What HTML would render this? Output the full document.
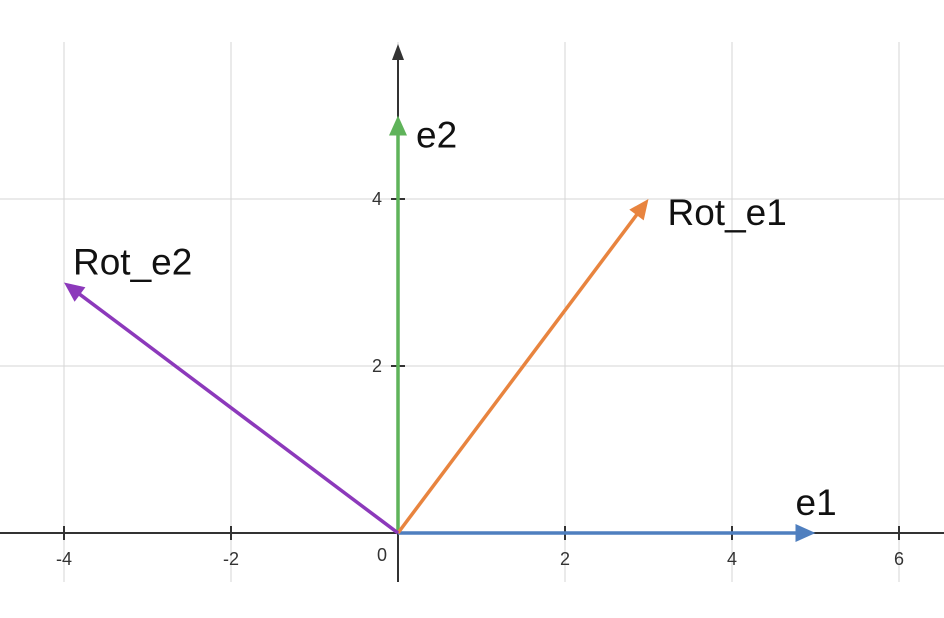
<!DOCTYPE html>
<html><head><meta charset="utf-8"><style>
html,body{margin:0;padding:0;background:#fff;}
svg{display:block;font-family:"Liberation Sans",sans-serif;}
</style></head><body>
<svg id="chart" width="944" height="618" viewBox="0 0 944 618">
<g id="grid"></g>
<g id="axes"></g>
<g id="vecs"></g>
</svg>
<script>
const xTicks=[-4,-2,2,4,6];
const yTicks=[2,4];
const vecNames=["e1","e2","Rot_e1","Rot_e2"];
const vecX=[5,0,3,-4];
const vecY=[0,5,4,3];
const vecColors=["#4f7fbf","#5fb35a","#e8843f","#8c39bb"];
const NS="http://www.w3.org/2000/svg";
const U=83.5, X0=398, Y0=533;
const sx=v=>X0+v*U, sy=v=>Y0-v*U;
function mk(t,a,p){const e=document.createElementNS(NS,t);for(const k in a)e.setAttribute(k,a[k]);p.appendChild(e);return e;}
const grid=document.getElementById('grid'),axes=document.getElementById('axes'),vecs=document.getElementById('vecs');
xTicks.concat([0]).forEach(t=>{const l=mk('line',{x1:sx(t),x2:sx(t),y1:42,y2:582,stroke:'#d6d6d6','stroke-width':1},grid);

});
yTicks.forEach(t=>{const l=mk('line',{x1:0,x2:944,y1:sy(t),y2:sy(t),stroke:'#d6d6d6','stroke-width':1},grid);

});
let a=mk('line',{x1:0,x2:944,y1:Y0,y2:Y0,stroke:'#333','stroke-width':2},axes);


a=mk('line',{x1:X0,x2:X0,y1:56,y2:582,stroke:'#333','stroke-width':2},axes);


a=mk('polygon',{points:`${X0},44 ${X0-6},60 ${X0+6},60`,fill:'#333'},axes);


xTicks.forEach(t=>{const l=mk('line',{x1:sx(t),x2:sx(t),y1:Y0-7,y2:Y0+7,stroke:'#333','stroke-width':2},axes);


const tx=mk('text',{x:sx(t),y:Y0+32,'text-anchor':'middle','font-size':18,fill:'#333'},axes);tx.textContent=t;

});
yTicks.forEach(t=>{const l=mk('line',{x1:X0-7,x2:X0+7,y1:sy(t),y2:sy(t),stroke:'#333','stroke-width':2},axes);


const tx=mk('text',{x:X0-16,y:sy(t)+6,'text-anchor':'end','font-size':18,fill:'#333'},axes);tx.textContent=t;

});
let z=mk('text',{x:X0-11,y:Y0+28,'text-anchor':'end','font-size':18,fill:'#333'},axes);z.textContent='0';


const labelOff=[[-20,-18],[18,32],[19,26],[9,-8]];
vecNames.forEach((n,i)=>{
 const x2=sx(vecX[i]),y2=sy(vecY[i]);
 const dx=x2-X0,dy=y2-Y0,L=Math.hypot(dx,dy),ux=dx/L,uy=dy/L,h=20,w=9;
 const bx=x2-ux*h,by=y2-uy*h;
 const g=mk('g',{},vecs);
 
 
 mk('line',{x1:X0,y1:Y0,x2:bx+ux*2,y2:by+uy*2,stroke:vecColors[i],'stroke-width':3.5},g);
 mk('polygon',{points:`${x2},${y2} ${bx-uy*w},${by+ux*w} ${bx+uy*w},${by-ux*w}`,fill:vecColors[i]},g);
 const t=mk('text',{x:x2+labelOff[i][0],y:y2+labelOff[i][1],'font-size':37,fill:'#111'},g);t.textContent=n;
 
 
});
</script>
</body></html>
